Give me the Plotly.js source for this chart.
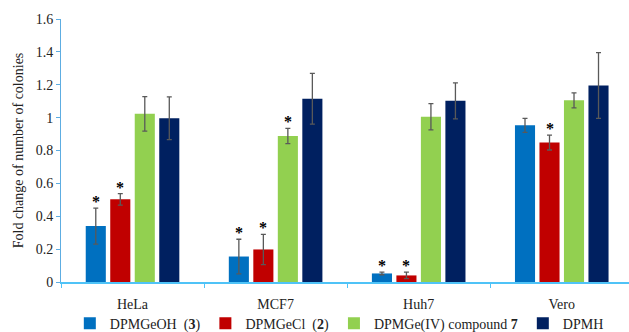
<!DOCTYPE html>
<html><head><meta charset="utf-8">
<script src="https://cdn.plot.ly/plotly-3.0.1.min.js"></script>
<style>html,body{margin:0;padding:0;background:#fff}#c{width:629px;height:332px}</style>
</head><body><div id="c"></div>
<script>
const categories = ["HeLa", "MCF7", "Huh7", "Vero"];
const seriesNames = ["DPMGeOH  (<b>3</b>)", "DPMGeCl  (<b>2</b>)", "DPMGe(IV) compound <b>7</b>", "DPMH"];
const dpmgeoh = [0.34, 0.155, 0.052, 0.953];
const dpmgeohErr = [0.11, 0.105, 0.008, 0.043];
const dpmgecl = [0.503, 0.198, 0.04, 0.848];
const dpmgeclErr = [0.035, 0.092, 0.02, 0.045];
const compound7 = [1.023, 0.888, 1.005, 1.105];
const compound7Err = [0.105, 0.046, 0.08, 0.046];
const dpmh = [0.996, 1.115, 1.102, 1.195];
const dpmhErr = [0.13, 0.154, 0.11, 0.2];
// significance markers (1 = asterisk shown)
const sigDpmgeoh = [1, 1, 1, 0];
const sigDpmgecl = [1, 1, 1, 1];
const sigCompound7 = [0, 1, 0, 0];
const sigDpmh = [0, 0, 0, 0];

const colors = ["#0070C0", "#C00000", "#92D050", "#002060"];
const vals = [dpmgeoh, dpmgecl, compound7, dpmh];
const errs = [dpmgeohErr, dpmgeclErr, compound7Err, dpmhErr];
const sigs = [sigDpmgeoh, sigDpmgecl, sigCompound7, sigDpmh];
const FONT = "'Liberation Serif', 'Times New Roman', Times, serif";

const bargap = 0.315;
const traces = vals.map((v, i) => ({
  type: "bar", x: categories, y: v, name: seriesNames[i],
  marker: {color: colors[i], line: {width: 0}},
  error_y: {type: "data", array: errs[i], visible: true, color: "#595959", thickness: 1.3, width: 2.5}
}));

const annotations = [];
const groupW = 1 - bargap;
const slot = groupW / 4;
sigs.forEach((s, i) => {
  s.forEach((flag, j) => {
    if (flag) {
      annotations.push({
        xref: "x", yref: "y",
        x: j - groupW / 2 + slot * (i + 0.5),
        y: vals[i][j] + errs[i][j],
        text: "<b>*</b>", showarrow: false, yanchor: "bottom", yshift: -4,
        font: {family: FONT, size: 16, color: "#000"}
      });
    }
  });
});

const layout = {
  width: 629, height: 332,
  margin: {l: 61, r: 0, t: 19, b: 50, autoexpand: false},
  paper_bgcolor: "#fff", plot_bgcolor: "#fff",
  font: {family: FONT, size: 14, color: "#222"},
  barmode: "group", bargap: bargap, bargroupgap: 0.18,
  showlegend: true,
  legend: {orientation: "h", x: 0.49, xanchor: "center", y: -0.158, yanchor: "middle",
    bgcolor: "rgba(0,0,0,0)",
    font: {family: FONT, size: 14, color: "#222"}, itemwidth: 30, traceorder: "normal",
    tracegroupgap: 0},
  xaxis: {type: "category", showline: true, linecolor: "#4FC3F7", linewidth: 2,
    ticks: "outside", tickson: "boundaries", ticklen: 4, tickcolor: "#4FC3F7",
    ticklabelstandoff: 8,
    showgrid: false, zeroline: false, range: [-0.5, 3.47], tickfont: {family: FONT, size: 14}},
  yaxis: {range: [0, 1.6], dtick: 0.2, showline: true, linecolor: "#5DADE2", linewidth: 1,
    ticks: "outside", ticklen: 4, tickcolor: "#5DADE2", showgrid: false, zeroline: false,
    tickformat: "~g", tickfont: {family: FONT, size: 14},
    title: {text: "Fold change of number of colonies", font: {family: FONT, size: 14, color: "#222"}, standoff: 8}},
  annotations: annotations
};
Plotly.newPlot("c", traces, layout, {displayModeBar: false, staticPlot: true});
</script></body></html>
